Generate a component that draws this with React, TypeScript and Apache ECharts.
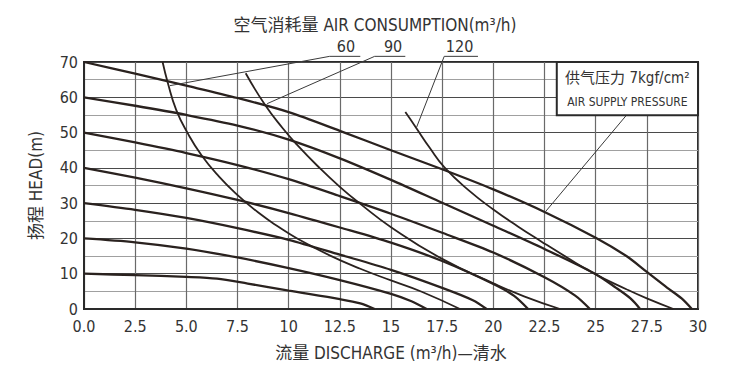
import React, { useEffect, useRef } from 'react';
import * as echarts from 'echarts';

const FONT = "'DejaVu Sans Condensed', 'Liberation Sans Narrow', 'Liberation Sans', 'Noto Sans CJK SC', sans-serif";
const INK = '#2a221f';
const TEXT = '#333333';

// tick labels
const xTickLabels = ['0.0', '2.5', '5.0', '7.5', '10', '12.5', '15', '17.5', '20', '22.5', '25', '27.5', '30'];

// pressure curves (kgf/cm2 steps) — [flow, head]
const curveP1 = [[0, 10], [2.5, 9.6], [5, 9.1], [6.5, 8.6], [8, 7.2], [10, 5.2], [12.5, 2.8], [13.5, 1.6], [14.2, 0]];
const curveP2 = [[0, 20], [2.5, 18.9], [5, 17.1], [7.5, 14.6], [10, 11.6], [12.5, 8.2], [15, 4.3], [16, 2.2], [16.74, 0]];
const curveP3 = [[0, 30], [2.5, 28.1], [5, 25.8], [7.5, 22.9], [10, 19.6], [12.5, 15.4], [15, 11.1], [17.5, 6], [19, 2.5], [19.67, 0]];
const curveP4 = [[0, 40], [2.5, 37.2], [5, 34.2], [7.5, 30.9], [10, 27.2], [12.5, 23.1], [15, 18.8], [17.5, 13.6], [20, 7.1], [21, 3.8], [21.7, 0]];
const curveP5 = [[0, 50], [2.5, 47.2], [5, 44.2], [7.5, 40.8], [10, 36.8], [12.5, 32], [15, 27], [17.5, 21.6], [20, 16], [22.5, 9], [24, 3.8], [24.72, 0]];
const curveP6 = [[0, 60], [2.5, 57.6], [5, 55], [7.5, 52], [10, 48], [12.5, 42.7], [15, 36.6], [17.5, 30.1], [20, 23.6], [22.5, 17], [24.9, 10.2], [26, 6], [26.7, 3], [27.17, 0]];
const curveP7 = [[0, 70], [2.5, 66.7], [5, 63.3], [7.5, 59.8], [10, 55.8], [12.5, 50.5], [15, 45], [17.5, 39.6], [20, 33.9], [22.5, 27.5], [25, 20.2], [26.5, 15], [27.5, 10.5], [28.5, 6], [29.2, 3], [29.7, 0]];

// air consumption curves (m3/h)
const air60 = [[3.84, 70], [4.1, 64], [4.5, 56.5], [5.05, 50], [5.75, 43.5], [6.6, 37.5], [7.5, 32.3], [8.5, 27.4], [9.5, 23.3], [10.5, 19.7], [12, 15.2], [13.5, 11.4], [15, 8.1], [16.5, 4.9], [18.37, 0]];
const air90 = [[7.9, 66.8], [8.85, 57.8], [9.7, 51.3], [10.4, 46.6], [11.4, 40.6], [12.5, 34.6], [13.5, 29.8], [15, 23.2], [17.5, 14.2], [20, 7.3], [21.5, 3.6], [23.26, 0]];
const air120 = [[15.7, 55.8], [16.2, 51.6], [16.9, 45.6], [17.6, 40.2], [18.8, 33.6], [20, 28.2], [21.2, 23.4], [22.3, 19.3], [23.6, 14.6], [24.88, 10.2], [26.5, 5.6], [27.5, 3], [28.8, 0]];

// annotations
const leader60 = [[4.2, 63.3], [12.0, 71.6], [13.5, 71.6]];
const leader90 = [[8.95, 58.2], [14.2, 71.6], [15.7, 71.6]];
const leader120 = [[16.25, 51.5], [17.6, 71.6], [19.25, 71.6]];
const leaderPressure = [[22.55, 27.6], [26.5, 54.9]];
const airLabels = [
  { text: '60', at: [12.8, 74.3] },
  { text: '90', at: [15.1, 74.3] },
  { text: '120', at: [18.35, 74.3] },
];
const boxCorners = [[23.1, 70], [30, 54.9]];
const boxLine1 = { text: '供气压力 7kgf/cm²', at: [26.55, 65.4] };
const boxLine2 = { text: 'AIR SUPPLY PRESSURE', at: [26.55, 58.7] };

const pressureCurves = [curveP1, curveP2, curveP3, curveP4, curveP5, curveP6, curveP7];
const airCurves = [air60, air90, air120];

export default function App() {
  const ref = useRef<HTMLDivElement>(null);
  useEffect(() => {
    if (!ref.current) return;
    const chart = echarts.init(ref.current, null, { renderer: 'svg' });
    const mkSeries = (data: number[][], w: number, smooth: number) => ({
      type: 'line',
      data,
      smooth,
      symbol: 'none',
      silent: true,
      lineStyle: { color: INK, width: w },
    });
    chart.setOption({
      animation: false,
      backgroundColor: '#ffffff',
      title: {
        text: '空气消耗量 AIR CONSUMPTION(m³/h)',
        left: 'center',
        top: 11,
        textStyle: { fontFamily: FONT, fontSize: 17, fontWeight: 'normal', color: TEXT },
      },
      grid: { left: 84, right: 52, top: 62, bottom: 71, show: true, borderColor: '#2a2a2a', borderWidth: 2, backgroundColor: 'transparent' },
      xAxis: {
        type: 'value', min: 0, max: 30, interval: 2.5,
        name: '流量 DISCHARGE (m³/h)—清水', nameLocation: 'middle', nameGap: 35,
        nameTextStyle: { fontFamily: FONT, fontSize: 17, color: TEXT },
        axisLine: { show: true, lineStyle: { color: '#2a2a2a', width: 2 } },
        axisTick: { show: false },
        axisLabel: {
          fontFamily: FONT, fontSize: 16, color: TEXT, margin: 9,
          formatter: (v: number) => xTickLabels[Math.round(v / 2.5)] ?? '',
        },
        splitLine: { show: true, lineStyle: { color: '#6a6a6a', width: 1.2 } },
      },
      yAxis: {
        type: 'value', min: 0, max: 70, interval: 10,
        name: '扬程 HEAD(m)', nameLocation: 'middle', nameGap: 40, nameRotate: 90,
        nameTextStyle: { fontFamily: FONT, fontSize: 17, color: TEXT },
        axisLine: { show: true, lineStyle: { color: '#2a2a2a', width: 2 } },
        axisTick: { show: false },
        axisLabel: { fontFamily: FONT, fontSize: 16, color: TEXT, margin: 6 },
        splitLine: { show: true, lineStyle: { color: '#4a4a4a', width: 1.2 } },
        minorTick: { show: false, splitNumber: 2 },
        minorSplitLine: { show: true, lineStyle: { color: '#a0a0a0', width: 1.2 } },
      },
      series: [
        ...pressureCurves.map((c) => mkSeries(c, 2.3, 0.3)),
        ...airCurves.map((c) => mkSeries(c, 1.8, 0.5)),
      ],
    });

    const px = (p: number[]) => chart.convertToPixel({ xAxisIndex: 0, yAxisIndex: 0 }, p) as number[];
    const leaderEl = (pts: number[][]) => ({
      type: 'polyline', silent: true, z: 10,
      shape: { points: pts.map(px) },
      style: { stroke: '#3a3a3a', lineWidth: 1, fill: null },
    });
    const c0 = px(boxCorners[0]);
    const c1 = px(boxCorners[1]);
    const b1 = px(boxLine1.at);
    const b2 = px(boxLine2.at);
    chart.setOption({
      graphic: [
        leaderEl(leader60),
        leaderEl(leader90),
        leaderEl(leader120),
        leaderEl(leaderPressure),
        ...airLabels.map((l) => {
          const p = px(l.at);
          return {
            type: 'text', x: p[0], y: p[1], z: 10, silent: true,
            style: { text: l.text, fontFamily: FONT, fontSize: 16, fill: TEXT, align: 'center', verticalAlign: 'middle' },
          };
        }),
        {
          type: 'rect', z: 11, silent: true,
          shape: { x: c0[0], y: c0[1], width: c1[0] - c0[0], height: c1[1] - c0[1] },
          style: { fill: '#ffffff', stroke: '#2a2a2a', lineWidth: 2 },
        },
        {
          type: 'text', x: b1[0], y: b1[1], z: 12, silent: true,
          style: { text: boxLine1.text, fontFamily: FONT, fontSize: 15, fill: TEXT, align: 'center', verticalAlign: 'middle' },
        },
        {
          type: 'text', x: b2[0], y: b2[1], z: 12, silent: true,
          style: { text: boxLine2.text, fontFamily: FONT, fontSize: 12, fill: TEXT, align: 'center', verticalAlign: 'middle' },
        },
      ],
    });
    return () => chart.dispose();
  }, []);
  return <div ref={ref} style={{ position: 'fixed', left: 0, top: 0, width: 750, height: 380 }} />;
}
